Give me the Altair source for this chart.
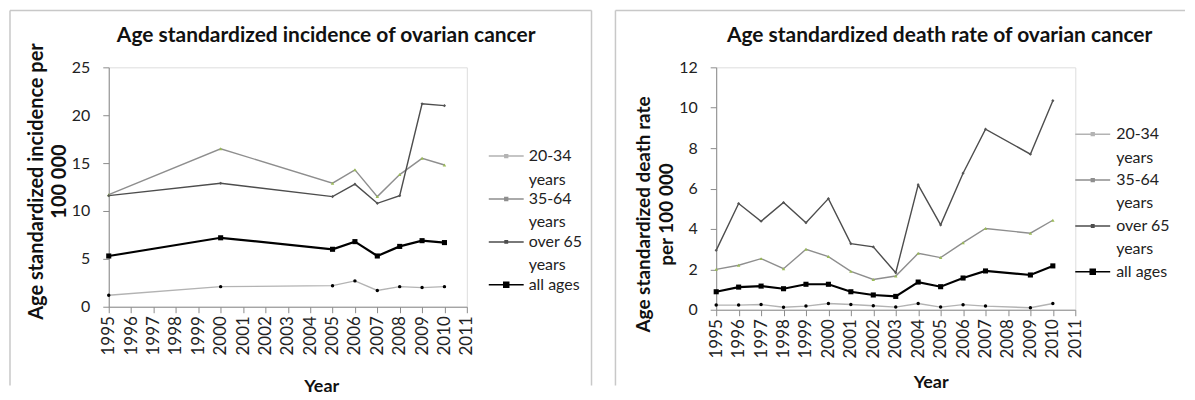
import altair as alt
import pandas as pd

FONT = "Lato"

series = ["20-34 years", "35-64 years", "over 65 years", "all ages"]
line_colors = ["#b3b3b3", "#8e8e8e", "#4d4d4d", "#000000"]
line_widths = [1.4, 1.4, 1.4, 2.2]
marker_colors = ["#000000", "#9bbb59", "#555555", "#000000"]
marker_shapes = ["circle", "triangle-up", "diamond", "square"]
marker_sizes = [12, 12, 10, 26]
legend_shapes = [
    "M-2.1875,0H2.1875M-0.175,-0.175H0.175V0.175H-0.175Z",
    "M-2.1875,0H2.1875M-0.175,-0.175H0.175V0.175H-0.175Z",
    "M-2.1875,0H2.1875M-0.15,-0.15H0.15V0.15H-0.15Z",
    "M-2.1875,0H2.1875M-0.3125,-0.3125H0.3125V0.3125H-0.3125Z",
]

# Incidence chart
inc_years = [1995, 2000, 2005, 2006, 2007, 2008, 2009, 2010]
inc_20_34 = [1.2, 2.1, 2.2, 2.7, 1.7, 2.1, 2.0, 2.1]
inc_35_64 = [11.7, 16.5, 12.9, 14.3, 11.5, 13.8, 15.5, 14.8]
inc_over65 = [11.6, 12.9, 11.5, 12.8, 10.8, 11.6, 21.2, 21.0]
inc_all = [5.3, 7.2, 6.0, 6.8, 5.3, 6.3, 6.9, 6.7]

# Death rate chart (no 2008 value)
dth_years = [1995, 1996, 1997, 1998, 1999, 2000, 2001, 2002, 2003, 2004, 2005, 2006, 2007, 2009, 2010]
dth_20_34 = [0.23, 0.23, 0.26, 0.12, 0.18, 0.31, 0.26, 0.20, 0.13, 0.31, 0.13, 0.25, 0.18, 0.10, 0.31]
dth_35_64 = [2.00, 2.20, 2.53, 2.03, 2.99, 2.63, 1.90, 1.50, 1.67, 2.79, 2.58, 3.32, 4.02, 3.79, 4.43]
dth_over65 = [2.94, 5.26, 4.38, 5.31, 4.31, 5.50, 3.27, 3.11, 1.83, 6.18, 4.20, 6.76, 8.94, 7.70, 10.35]
dth_all = [0.89, 1.12, 1.17, 1.04, 1.26, 1.26, 0.89, 0.73, 0.66, 1.37, 1.14, 1.57, 1.92, 1.72, 2.17]

x_ticks = list(range(1995, 2012))


def long_df(years, cols):
    rows = []
    for name, vals in zip(series, cols):
        for yr, v in zip(years, vals):
            rows.append({"year": yr, "value": v, "series": name})
    return pd.DataFrame(rows)


def one_row(**kw):
    return pd.DataFrame({k: [v] for k, v in kw.items()})


def panel(df, title, ytitle, ymax, ystep, w, h, cfg):
    xenc = alt.X(
        "year:Q",
        scale=alt.Scale(domain=[1995, 2011], nice=False, zero=False),
        axis=alt.Axis(
            values=x_ticks, format="d", labelAngle=270, labelAlign="right",
            labelBaseline="middle", labelPadding=3, tickSize=6, grid=False,
            labelOverlap=False, labelFlush=False, labelBound=False,
            labelFont=FONT, labelFontSize=17, labelColor="#222222",
            domainColor="#8c8c8c", tickColor="#8c8c8c",
            title="Year", titleFont=FONT, titleFontSize=18, titleFontWeight="bold",
            titleColor="#111111", titleX=cfg["xtx"], titleY=cfg["xty"],
            titleAlign="center", titleBaseline="middle",
        ),
    )
    yenc = alt.Y(
        "value:Q",
        scale=alt.Scale(domain=[0, ymax], nice=False, zero=True),
        axis=alt.Axis(
            values=list(range(0, ymax + 1, ystep)), grid=False, tickSize=6,
            labelPadding=13, labelFont=FONT, labelFontSize=16, labelColor="#222222",
            domainColor="#8c8c8c", tickColor="#8c8c8c",
            title=ytitle, titleFont=FONT, titleFontSize=cfg["ytfs"], titleFontWeight="bold",
            titleColor="#111111", titleAngle=270, titleX=cfg["ytx"], titleY=cfg["yty"],
            titleAlign="center", titleBaseline="middle", titleLineHeight=23,
        ),
    )
    legend = alt.Legend(
        title=None, orient="none", legendX=cfg["lx"], legendY=cfg["ly"], padding=0,
        symbolSize=256, symbolStrokeWidth=1.5,
        labelFont=FONT, labelFontSize=16, labelColor="#222222", labelOffset=cfg["lo"],
        rowPadding=cfg["rp"], labelLimit=200,
        labelExpr="datum.label == 'all ages' ? datum.label : [replace(datum.label, ' years', ''), 'years']",
    )
    base = alt.Chart(df)
    line_layers = []
    marker_layers = []
    for s, lc, lw, shp, col, sz in zip(series, line_colors, line_widths, marker_shapes, marker_colors, marker_sizes):
        sub = base.transform_filter(alt.datum.series == s)
        line_layers.append(
            sub.mark_line(color=lc, strokeWidth=lw).encode(x=xenc, y=yenc, order="year:Q")
        )
        marker_layers.append(
            sub.mark_point(filled=True, opacity=1, strokeWidth=0, shape=shp, fill=col, size=sz)
            .encode(x=xenc, y=yenc)
        )
    legend_layer = base.transform_filter("false").mark_point(filled=True, opacity=1).encode(
        x=xenc, y=yenc,
        stroke=alt.Stroke("series:N", scale=alt.Scale(domain=series, range=line_colors), legend=legend),
        fill=alt.Fill("series:N", scale=alt.Scale(domain=series, range=marker_colors), legend=legend),
        shape=alt.Shape("series:N", scale=alt.Scale(domain=series, range=legend_shapes), legend=legend),
    )
    bl, bt, br, bb = cfg["border"]
    border_color = "#c8c8c8"
    rules = []
    rules.append(alt.Chart(one_row(k=0)).mark_rule(color=border_color, strokeWidth=1.5).encode(
        x=alt.value(bl), y=alt.value(bt), y2=alt.value(bb)))
    rules.append(alt.Chart(one_row(k=0)).mark_rule(color=border_color, strokeWidth=1.5).encode(
        x=alt.value(bl), x2=alt.value(br), y=alt.value(bt)))
    if cfg["right_edge"]:
        rules.append(alt.Chart(one_row(k=0)).mark_rule(color=border_color, strokeWidth=1.5).encode(
            x=alt.value(br), y=alt.value(bt), y2=alt.value(bb)))
    ttl = alt.Chart(one_row(t=title)).mark_text(
        font=FONT, fontSize=21, fontWeight="bold", color="#111111", align="center", baseline="middle"
    ).encode(x=alt.value(cfg["tx"]), y=alt.value(cfg["ty"]), text="t:N")
    return alt.layer(*rules, *line_layers, *marker_layers, legend_layer, ttl).properties(width=w, height=h)


inc_df = long_df(inc_years, [inc_20_34, inc_35_64, inc_over65, inc_all])
dth_df = long_df(dth_years, [dth_20_34, dth_35_64, dth_over65, dth_all])

left = panel(
    inc_df, "Age standardized incidence of ovarian cancer",
    ["Age standardized incidence per", "100 000"], 25, 5, 359, 240,
    dict(xtx=213, xty=80, ytx=-72, yty=114, ytfs=20, lx=389.5, ly=80, rp=2, lo=13.5,
         tx=218, ty=-31, border=(-99, -57, 484, 319), right_edge=True),
)
right = panel(
    dth_df, "Age standardized death rate of ovarian  cancer",
    ["Age standardized death rate", "per 100 000"], 12, 2, 360, 243,
    dict(xtx=215, xty=73, ytx=-73, yty=147, ytfs=19, lx=368.5, ly=58, rp=5, lo=14.5,
         tx=224, ty=-31, border=(-101, -57, 470, 319), right_edge=False),
)

chart = alt.hconcat(left, right, spacing=250, bounds="flush").resolve_scale(
    stroke="independent", fill="independent", shape="independent"
).resolve_legend(
    stroke="independent", fill="independent", shape="independent"
).properties(
    padding={"left": 0, "top": 0, "right": 0, "bottom": 0}
).configure_view(stroke=None).configure(
    font=FONT, style={"guide-label": {"lineHeight": 23.5}}
)

chart.save("out.html", embed_options={"renderer": "svg", "actions": False})
